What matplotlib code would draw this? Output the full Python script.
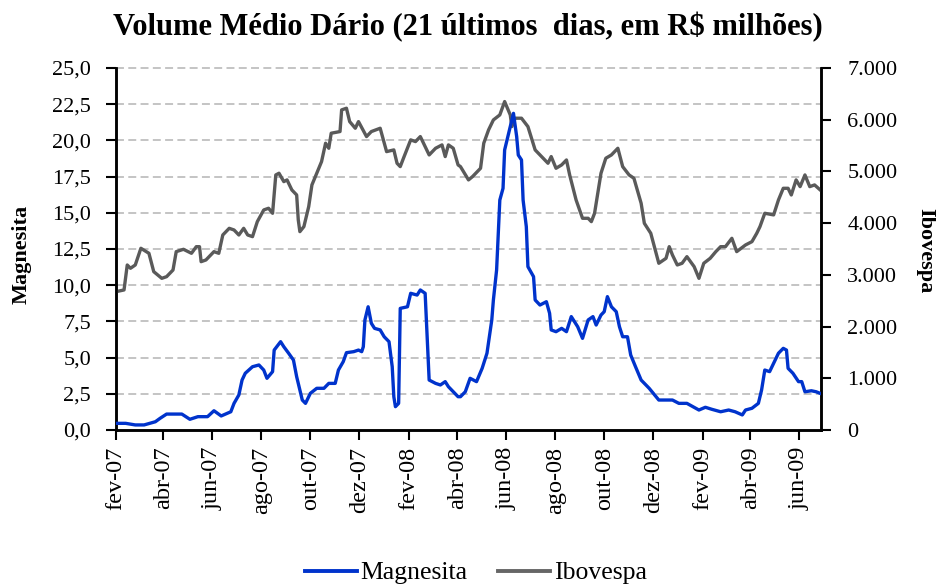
import matplotlib
matplotlib.use("Agg")
import matplotlib.pyplot as plt
from matplotlib.transforms import blended_transform_factory
import pandas as pd

# ---------------- data ----------------
ibov_dates = [
    "2007-02-01", "2007-02-11", "2007-02-15", "2007-02-19", "2007-02-25", "2007-03-04", "2007-03-14",
    "2007-03-20", "2007-03-30", "2007-04-05", "2007-04-13", "2007-04-17", "2007-04-26", "2007-05-06",
    "2007-05-12", "2007-05-16", "2007-05-18", "2007-05-24", "2007-06-03", "2007-06-09", "2007-06-14",
    "2007-06-22", "2007-06-28", "2007-07-04", "2007-07-10", "2007-07-15", "2007-07-21", "2007-07-27",
    "2007-08-04", "2007-08-10", "2007-08-15", "2007-08-19", "2007-08-23", "2007-08-29", "2007-09-02",
    "2007-09-08", "2007-09-14", "2007-09-16", "2007-09-18", "2007-09-23", "2007-09-29", "2007-10-03",
    "2007-10-09", "2007-10-15", "2007-10-20", "2007-10-24", "2007-10-27", "2007-11-07", "2007-11-09",
    "2007-11-15", "2007-11-19", "2007-11-26", "2007-11-30", "2007-12-10", "2007-12-16", "2007-12-27",
    "2008-01-04", "2008-01-13", "2008-01-17", "2008-01-21", "2008-01-25", "2008-02-03", "2008-02-09",
    "2008-02-15", "2008-02-26", "2008-03-05", "2008-03-13", "2008-03-17", "2008-03-21", "2008-03-27",
    "2008-04-02", "2008-04-05", "2008-04-15", "2008-04-20", "2008-04-30", "2008-05-04", "2008-05-10",
    "2008-05-16", "2008-05-24", "2008-05-30", "2008-06-06", "2008-06-08", "2008-06-12", "2008-06-20",
    "2008-06-28", "2008-07-07", "2008-07-15", "2008-07-23", "2008-07-27", "2008-08-02", "2008-08-09",
    "2008-08-15", "2008-08-19", "2008-08-27", "2008-09-04", "2008-09-11", "2008-09-15", "2008-09-19",
    "2008-09-27", "2008-10-03", "2008-10-10", "2008-10-18", "2008-10-24", "2008-11-01", "2008-11-07",
    "2008-11-16", "2008-11-20", "2008-11-28", "2008-12-08", "2008-12-17", "2008-12-21", "2008-12-25",
    "2008-12-31", "2009-01-06", "2009-01-12", "2009-01-21", "2009-01-27", "2009-02-02", "2009-02-10",
    "2009-02-17", "2009-02-23", "2009-03-01", "2009-03-09", "2009-03-15", "2009-03-26", "2009-04-03",
    "2009-04-09", "2009-04-13", "2009-04-19", "2009-04-30", "2009-05-06", "2009-05-12", "2009-05-18",
    "2009-05-22", "2009-05-28", "2009-06-02", "2009-06-08", "2009-06-14", "2009-06-20", "2009-06-27",
]
ibov_values = [
    2675, 2708, 3191, 3127, 3191, 3514, 3417,
    3062, 2933, 2965, 3094, 3449, 3494, 3417,
    3545, 3545, 3255, 3288, 3449, 3417, 3771,
    3900, 3868, 3771, 3900, 3771, 3739, 4029,
    4255, 4288, 4191, 4932, 4965, 4803, 4836,
    4642, 4545, 4062, 3836, 3933, 4320, 4739,
    4965, 5190, 5545, 5448, 5739, 5771, 6190,
    6222, 5964, 5835, 5964, 5674, 5771, 5835,
    5383, 5416, 5158, 5093, 5255, 5610, 5577,
    5674, 5319, 5448, 5513, 5287, 5513, 5448,
    5126, 5093, 4836, 4900, 5061, 5545, 5803,
    5996, 6093, 6351, 6093, 5867, 6029, 6029,
    5867, 5416, 5287, 5158, 5287, 5061, 5126,
    5222, 4932, 4448, 4094, 4094, 4029, 4191,
    4965, 5255, 5319, 5448, 5093, 4932, 4868,
    4384, 3997, 3804, 3224, 3320, 3545, 3384,
    3191, 3224, 3352, 3159, 2933, 3224, 3320,
    3449, 3545, 3545, 3707, 3449, 3578, 3642,
    3804, 3933, 4191, 4159, 4448, 4674, 4674,
    4545, 4836, 4706, 4932, 4706, 4739, 4642,
]

mag_dates = [
    "2007-02-01", "2007-02-13", "2007-02-25", "2007-03-08", "2007-03-22", "2007-03-28", "2007-04-05",
    "2007-04-24", "2007-05-04", "2007-05-14", "2007-05-26", "2007-06-03", "2007-06-12", "2007-06-24",
    "2007-06-28", "2007-07-04", "2007-07-08", "2007-07-12", "2007-07-21", "2007-07-29", "2007-08-04",
    "2007-08-08", "2007-08-15", "2007-08-17", "2007-08-25", "2007-08-29", "2007-09-04", "2007-09-10",
    "2007-09-14", "2007-09-21", "2007-09-25", "2007-10-01", "2007-10-09", "2007-10-18", "2007-10-24",
    "2007-11-01", "2007-11-05", "2007-11-11", "2007-11-15", "2007-11-24", "2007-11-30", "2007-12-04",
    "2007-12-06", "2007-12-08", "2007-12-12", "2007-12-16", "2007-12-20", "2007-12-27", "2008-01-01",
    "2008-01-07", "2008-01-11", "2008-01-13", "2008-01-15", "2008-01-19", "2008-01-21", "2008-01-30",
    "2008-02-03", "2008-02-11", "2008-02-15", "2008-02-21", "2008-02-26", "2008-03-05", "2008-03-11",
    "2008-03-17", "2008-03-21", "2008-04-02", "2008-04-05", "2008-04-11", "2008-04-17", "2008-04-25",
    "2008-05-02", "2008-05-08", "2008-05-14", "2008-05-16", "2008-05-20", "2008-05-24", "2008-05-28",
    "2008-05-30", "2008-06-06", "2008-06-10", "2008-06-14", "2008-06-16", "2008-06-20", "2008-06-22",
    "2008-06-26", "2008-06-28", "2008-07-05", "2008-07-07", "2008-07-13", "2008-07-21", "2008-07-25",
    "2008-07-27", "2008-08-02", "2008-08-09", "2008-08-15", "2008-08-21", "2008-08-29", "2008-09-04",
    "2008-09-11", "2008-09-17", "2008-09-21", "2008-09-27", "2008-10-01", "2008-10-05", "2008-10-10",
    "2008-10-16", "2008-10-20", "2008-10-24", "2008-10-30", "2008-11-03", "2008-11-09", "2008-11-16",
    "2008-11-26", "2008-12-08", "2008-12-17", "2008-12-25", "2009-01-02", "2009-01-12", "2009-01-27",
    "2009-02-04", "2009-02-12", "2009-02-23", "2009-03-05", "2009-03-13", "2009-03-22", "2009-03-26",
    "2009-04-03", "2009-04-11", "2009-04-15", "2009-04-19", "2009-04-25", "2009-04-30", "2009-05-06",
    "2009-05-12", "2009-05-16", "2009-05-18", "2009-05-24", "2009-05-31", "2009-06-04", "2009-06-08",
    "2009-06-16", "2009-06-22", "2009-06-27",
]
mag_values = [
    0.46, 0.46, 0.35, 0.35, 0.57, 0.81, 1.10,
    1.10, 0.74, 0.92, 0.92, 1.33, 0.97, 1.26,
    1.84, 2.42, 3.45, 3.92, 4.37, 4.49, 4.14,
    3.57, 4.03, 5.52, 6.10, 5.75, 5.30, 4.83,
    3.68, 2.07, 1.84, 2.53, 2.88, 2.88, 3.22,
    3.22, 4.14, 4.72, 5.34, 5.41, 5.52, 5.41,
    5.75, 7.60, 8.51, 7.37, 7.02, 6.91, 6.44,
    6.10, 4.37, 2.30, 1.61, 1.84, 8.40, 8.51,
    9.44, 9.32, 9.67, 9.44, 3.45, 3.22, 3.11,
    3.34, 2.99, 2.30, 2.30, 2.64, 3.57, 3.34,
    4.26, 5.30, 7.60, 8.98, 11.05, 15.88, 16.69,
    19.34, 20.95, 21.87, 20.26, 18.99, 18.65, 15.88,
    14.04, 11.28, 10.59, 8.98, 8.63, 8.86, 8.06,
    6.91, 6.79, 7.02, 6.79, 7.83, 7.13, 6.33,
    7.60, 7.83, 7.25, 7.94, 8.17, 9.21, 8.51,
    8.17, 7.13, 6.44, 6.44, 5.18, 4.37, 3.45,
    2.88, 2.07, 2.07, 2.07, 1.84, 1.84, 1.38,
    1.57, 1.43, 1.26, 1.38, 1.26, 1.04, 1.38,
    1.50, 1.84, 2.76, 4.14, 4.03, 4.60, 5.30,
    5.64, 5.52, 4.26, 3.92, 3.34, 3.34, 2.64,
    2.71, 2.64, 2.53,
]

title = "Volume Médio Dário (21 últimos  dias, em R$ milhões)"
left_label = "Magnesita"
right_label = "Ibovespa"
left_ticks = [0, 2.5, 5, 7.5, 10, 12.5, 15, 17.5, 20, 22.5, 25]
right_ticks = [0, 1000, 2000, 3000, 4000, 5000, 6000, 7000]
x_tick_dates = ["2007-02-01", "2007-04-01", "2007-06-01", "2007-08-01", "2007-10-01",
                "2007-12-01", "2008-02-01", "2008-04-01", "2008-06-01", "2008-08-01",
                "2008-10-01", "2008-12-01", "2009-02-01", "2009-04-01", "2009-06-01"]
x_tick_labels = ["fev-07", "abr-07", "jun-07", "ago-07", "out-07", "dez-07", "fev-08",
                 "abr-08", "jun-08", "ago-08", "out-08", "dez-08", "fev-09", "abr-09", "jun-09"]

# ---------------- style ----------------
SERIF = ["Liberation Serif", "DejaVu Serif"]
plt.rcParams["font.family"] = SERIF
BLUE = "#0033CC"
GRAY = "#5A5A5A"

fig = plt.figure(figsize=(9.36, 5.88), dpi=100)
ax = fig.add_axes([116 / 936, 1 - 430 / 588, (821 - 116) / 936, (430 - 68) / 588])
ax2 = ax.twinx()

# left axis on top so the blue line is drawn over the gray one
ax.set_zorder(ax2.get_zorder() + 1)
ax.patch.set_visible(False)

md = pd.to_datetime(mag_dates)
idt = pd.to_datetime(ibov_dates)

ax2.plot(idt, ibov_values, color=GRAY, lw=2.4, solid_joinstyle="round", zorder=3)
ax.plot(md, mag_values, color=BLUE, lw=2.4, solid_joinstyle="round", zorder=3)

ax.set_ylim(0, 25)
ax2.set_ylim(0, 7000)
ax.set_xlim(pd.Timestamp("2007-02-01"), pd.Timestamp("2009-06-28"))

# dashed grid at left-axis ticks, drawn in the lower axes (behind both lines)
trans = blended_transform_factory(ax2.transAxes, ax.transData)
for v in left_ticks[1:]:
    ax2.plot([0, 1], [v, v], transform=trans, color="#BFBFBF", lw=1.3,
             dashes=(4.4, 2.4), zorder=1, clip_on=False)

ax.set_yticks(left_ticks)
ax.set_yticklabels([f"{v:.1f}".replace(".", ",") for v in left_ticks])
ax2.set_yticks(right_ticks)
ax2.set_yticklabels(["0" if v == 0 else f"{v:,}".replace(",", ".") for v in right_ticks])

ax.set_xticks(pd.to_datetime(x_tick_dates))
ax.set_xticklabels(x_tick_labels, rotation=90)

for a in (ax, ax2):
    for s in a.spines.values():
        s.set_linewidth(1.8)
    a.spines["top"].set_visible(False)
    a.tick_params(direction="out", length=7, width=1.5, labelsize=16, colors="black")
ax.tick_params(axis="x", pad=5, labelsize=17.5)
ax.tick_params(axis="y", pad=11)
ax2.tick_params(axis="y", pad=12)

fig.text(0.5, 1 - 27 / 588, title, ha="center", va="center", fontsize=22,
         fontweight="bold", family=SERIF)
fig.text(22 / 936, 1 - 254 / 588, left_label, rotation=90, ha="center", va="center",
         fontsize=16, fontweight="bold", family=SERIF)
fig.text(925 / 936, 1 - 251 / 588, right_label, rotation=270, ha="center", va="center",
         fontsize=16, fontweight="bold", family=SERIF)

h1 = plt.Line2D([], [], color=BLUE, lw=2.8)
h2 = plt.Line2D([], [], color="#666666", lw=2.8)
fig.legend([h1, h2], [left_label, right_label], loc="center", bbox_to_anchor=(476 / 936, 1 - 573 / 588),
           ncol=2, frameon=False, fontsize=18.5, handlelength=2.0, handletextpad=0.15,
           columnspacing=1.2)

fig.savefig("out.png", dpi=100)
